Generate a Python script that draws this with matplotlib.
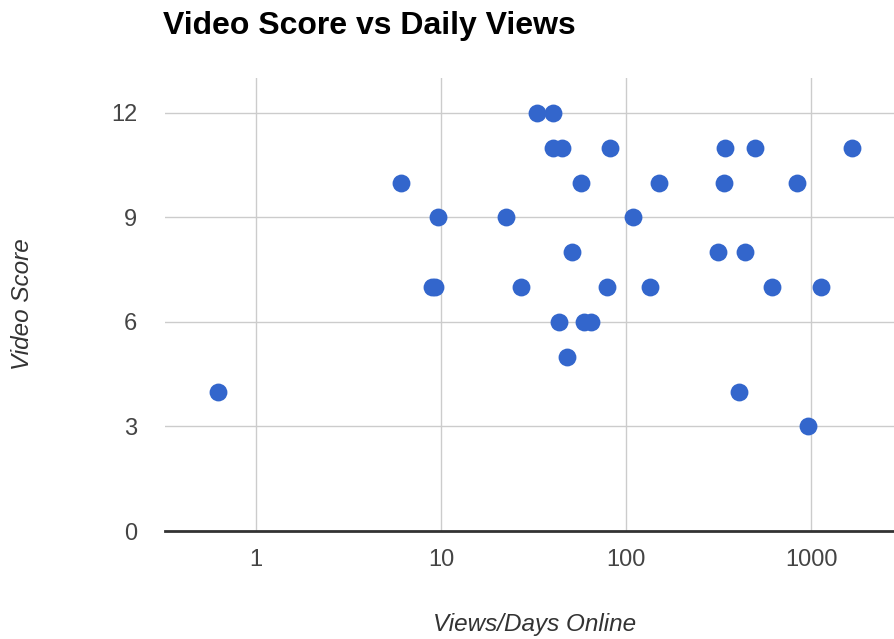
import matplotlib.pyplot as plt
from matplotlib.ticker import FixedLocator, NullLocator

plt.rcParams['font.family'] = ['Liberation Sans', 'DejaVu Sans']

# views per day online (x) and video score (y)
daily_views = [0.62, 6.1, 9.6, 8.9, 9.3, 22.5, 27, 33, 40.3, 40.3, 45, 82,
               57, 151, 109, 51, 79, 135, 43.4, 59, 65, 48,
               343, 498, 1667, 339, 840, 314, 440, 615, 1132, 408, 964]
video_score = [4, 10, 9, 7, 7, 9, 7, 12, 12, 11, 11, 11,
               10, 10, 9, 8, 7, 7, 6, 6, 6, 5,
               11, 11, 11, 10, 10, 8, 8, 7, 7, 4, 3]

x_ticks = [1, 10, 100, 1000]
y_ticks = [0, 3, 6, 9, 12]

W, H = 895, 639
fig = plt.figure(figsize=(W / 100, H / 100), dpi=100)
ax = fig.add_axes([165 / W, 1 - 531 / H, (895 - 165) / W, (531 - 78) / H])

ax.scatter(daily_views, video_score, s=165, color='#3366CC', zorder=3,
           linewidths=0)

ax.set_xscale('log')
ax.set_xlim(0.322, 2845)
ax.set_ylim(0, 13)
ax.xaxis.set_major_locator(FixedLocator(x_ticks))
ax.xaxis.set_minor_locator(NullLocator())
ax.set_xticklabels([str(t) for t in x_ticks])
ax.set_yticks(y_ticks)
ax.set_yticklabels([str(t) for t in y_ticks])

ax.grid(True, color='#cccccc', linewidth=1, zorder=0)
ax.axhline(0, color='#333333', linewidth=2, zorder=2, clip_on=False)
for s in ax.spines.values():
    s.set_visible(False)
ax.tick_params(axis='both', length=0, labelsize=17, labelcolor='#444444')
ax.tick_params(axis='y', pad=20)
ax.tick_params(axis='x', pad=13)

fig.text(163 / W, 1 - 26 / H, 'Video Score vs Daily Views', fontsize=23,
         fontweight='bold', color='#000000', ha='left', va='center')
fig.text(535 / W, 1 - 624 / H, 'Views/Days Online', fontsize=17.5,
         style='italic', color='#333333', ha='center', va='center')
fig.text(23 / W, 1 - 304 / H, 'Video Score', fontsize=17.5, rotation=90,
         style='italic', color='#333333', ha='center', va='center')

fig.savefig('out.png', dpi=100)
